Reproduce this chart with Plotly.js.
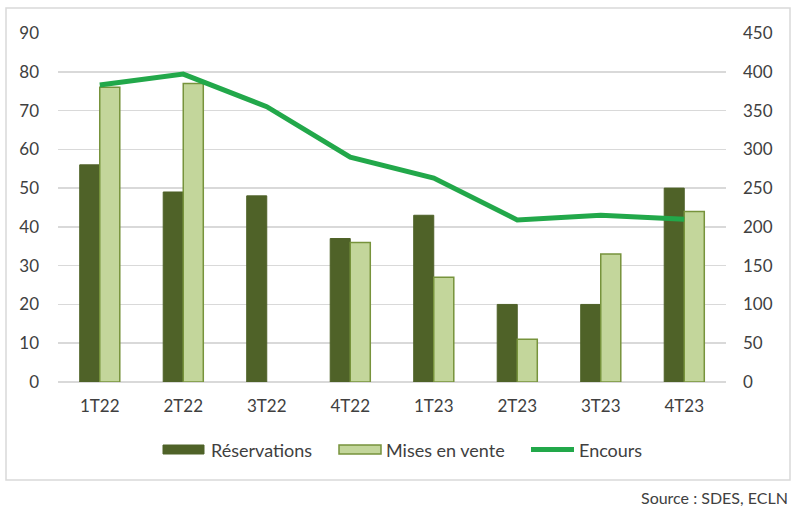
<!DOCTYPE html>
<html>
<head>
<meta charset="utf-8">
<script src="https://cdn.plot.ly/plotly-3.0.1.min.js"></script>
<style>html,body{margin:0;padding:0;background:#fff;}#chart{width:800px;height:513px;}</style>
</head>
<body>
<div id="chart"></div>
<script>
const categories = ["1T22","2T22","3T22","4T22","1T23","2T23","3T23","4T23"];
const reservations = [56, 49, 48, 37, 43, 20, 20, 50];
const misesEnVente = [76, 77, null, 36, 27, 11, 33, 44];
const encours = [383, 397, 355, 290, 263, 209, 215, 210];
const leftTicks = [0,10,20,30,40,50,60,70,80,90];
const rightTicks = [0,50,100,150,200,250,300,350,400,450];
const seriesNames = ["Réservations", "Mises en vente", "Encours"];

const fontFam = "Lato, 'Open Sans', sans-serif";
const txtColor = "#404040";
const M = {l:58, r:74, t:33, b:131};
const PW = 800 - M.l - M.r, PH = 513 - M.t - M.b;
const px = v => (v - M.l) / PW;
const py = v => (513 - M.b - v) / PH;

const traces = [
  {type:"bar", name:seriesNames[0], x:categories, y:reservations,
   marker:{color:"#4f6228", line:{color:"#4f6228", width:1}}},
  {type:"bar", name:seriesNames[1], x:categories, y:misesEnVente,
   marker:{color:"#c3d69b", line:{color:"#77933c", width:1.5}}},
  {type:"scatter", mode:"lines", name:seriesNames[2], x:categories, y:encours, yaxis:"y2",
   line:{color:"#22a84a", width:5}}
];

const legendShapes = [
  {type:"rect", xref:"paper", yref:"paper", x0:px(163), x1:px(204), y0:py(454), y1:py(445),
   fillcolor:"#4f6228", line:{color:"#4f6228", width:1}},
  {type:"rect", xref:"paper", yref:"paper", x0:px(339), x1:px(381), y0:py(454), y1:py(445),
   fillcolor:"#c3d69b", line:{color:"#77933c", width:1.5}},
  {type:"line", xref:"paper", yref:"paper", x0:px(531), x1:px(574), y0:py(449.5), y1:py(449.5),
   line:{color:"#22a84a", width:5}}
];
const legendTexts = [
  {x:px(209), text:seriesNames[0]},
  {x:px(384), text:seriesNames[1]},
  {x:px(577), text:seriesNames[2]}
].map(o => ({xref:"paper", yref:"paper", x:o.x, y:py(449.5), xanchor:"left", yanchor:"middle",
             text:o.text, showarrow:false, font:{size:18, color:txtColor}}));

const layout = {
  width:800, height:513,
  margin:M,
  paper_bgcolor:"#fff", plot_bgcolor:"#fff",
  font:{family:fontFam, size:17, color:txtColor},
  barmode:"group", bargap:0.52, bargroupgap:0,
  showlegend:false,
  xaxis:{type:"category", showgrid:false, ticks:"", showline:false, zeroline:false,
         ticklabelstandoff:12, tickfont:{size:17, color:txtColor}},
  yaxis:{range:[0,90], tickvals:leftTicks, ticktext:leftTicks.map(String),
         showgrid:true, gridcolor:"#d9d9d9", gridwidth:1.5, zeroline:true, zerolinecolor:"#d9d9d9", zerolinewidth:1.5,
         ticks:"", ticklabelstandoff:18, tickfont:{size:17, color:txtColor}},
  yaxis2:{range:[0,450], tickvals:rightTicks, ticktext:rightTicks.map(String),
          overlaying:"y", side:"right", showgrid:false, zeroline:false, ticks:"",
          ticklabelstandoff:16, tickfont:{size:17, color:txtColor}},
  shapes:[{type:"rect", xref:"paper", yref:"paper", x0:px(6), x1:px(790), y0:py(480), y1:py(8),
           line:{color:"#d9d9d9", width:1.5}, fillcolor:"rgba(0,0,0,0)", layer:"below"}].concat(legendShapes),
  annotations:[{xref:"paper", yref:"paper", x:px(790), y:py(497), xanchor:"right", yanchor:"middle",
                text:"Source : SDES, ECLN", showarrow:false, font:{size:16, color:txtColor}}].concat(legendTexts)
};
Plotly.newPlot("chart", traces, layout, {displayModeBar:false, staticPlot:true});
</script>
</body>
</html>
